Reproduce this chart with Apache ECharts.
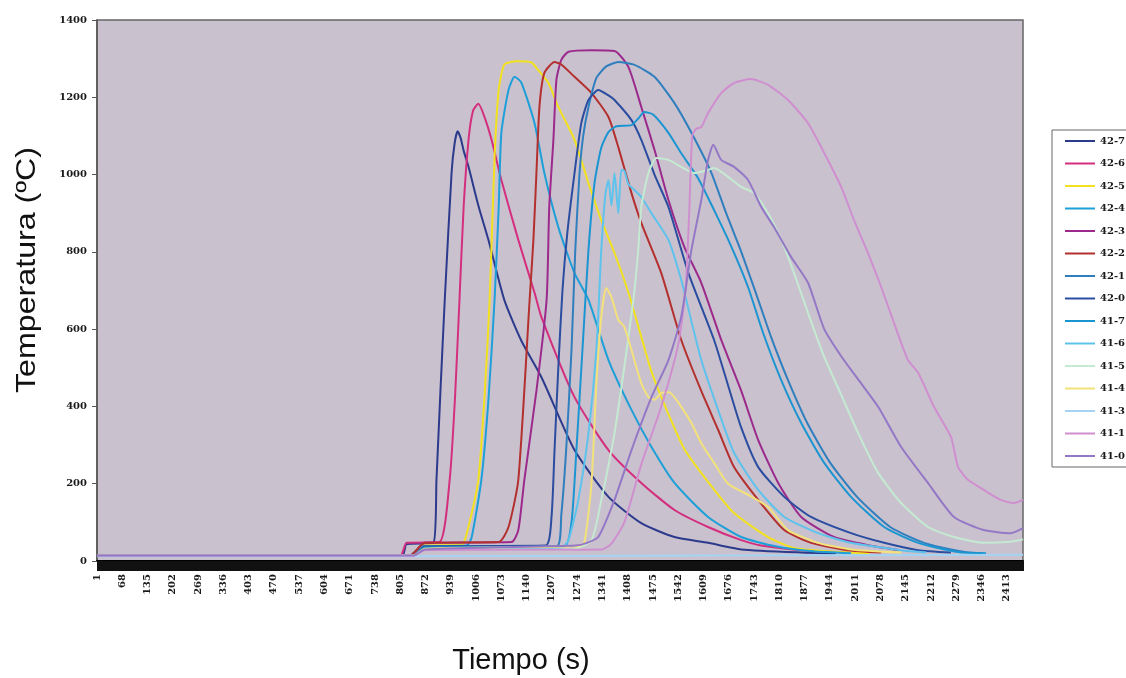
<!DOCTYPE html>
<html><head><meta charset="utf-8">
<script src="https://cdn.jsdelivr.net/npm/echarts@6/dist/echarts.min.js"></script>
<style>html,body{margin:0;padding:0;background:#fff}#c{width:1126px;height:678px}</style>
</head><body><div id="c"></div>
<script>
// time categories (s): 1..2456
const N = 2456;
const categories = [];
for (let i = 1; i <= N; i++) categories.push(String(i));

const yTicks = [0, 200, 400, 600, 800, 1000, 1200, 1400];

const seriesNames = ['42-7','42-6','42-5','42-4','42-3','42-2','42-1','42-0','41-7','41-6','41-5','41-4','41-3','41-1','41-0'];
const colors = ['#2c3a8c','#d42f7e','#f2e21e','#1d9fd8','#9b2a8c','#b3302e','#2f7fbf','#2b4da0','#1a95d2','#5dc3ec','#c4ead2','#f3e27a','#a4d4f2','#cf8fcf','#9478c6'];

// [time (s), temperature (ºC)]
const s42_7 = [[1,14],[810,14],[822,44],[893,47],[901,210],[912,450],[923,676],[941,1004],[949,1080],[957,1112],[965,1095],[973,1062],[986,1020],[1012,920],[1039,830],[1081,675],[1126,570],[1179,476],[1267,287],[1357,166],[1444,98],[1532,62],[1621,47],[1709,30],[1868,22],[1960,20]];
const s42_6 = [[1,14],[805,14],[822,47],[909,49],[936,210],[950,420],[962,676],[973,916],[986,1090],[998,1165],[1012,1183],[1028,1150],[1047,1090],[1073,986],[1118,831],[1161,694],[1179,632],[1267,424],[1357,287],[1444,202],[1532,132],[1621,88],[1709,54],[1762,40],[1868,28],[1990,22]];
const s42_5 = [[1,14],[830,14],[862,40],[968,42],[981,70],[1012,210],[1028,420],[1042,676],[1055,1045],[1066,1219],[1081,1285],[1113,1293],[1153,1290],[1171,1270],[1198,1237],[1224,1175],[1267,1090],[1304,978],[1338,882],[1373,797],[1410,694],[1444,580],[1471,490],[1516,380],[1558,290],[1621,205],[1690,124],[1780,62],[1849,34],[1960,24],[2050,20]];
const s42_4 = [[1,14],[830,14],[862,38],[981,40],[994,60],[1020,210],[1039,420],[1055,676],[1066,916],[1073,1108],[1092,1219],[1108,1253],[1126,1238],[1161,1133],[1187,1004],[1224,864],[1267,745],[1304,676],[1357,520],[1418,391],[1471,295],[1532,202],[1621,114],[1709,62],[1800,38],[1900,25],[2000,20]];
const s42_3 = [[1,14],[830,14],[870,47],[1100,49],[1118,80],[1134,210],[1166,440],[1193,676],[1200,916],[1211,1090],[1219,1245],[1232,1297],[1251,1318],[1312,1322],[1373,1320],[1410,1278],[1444,1175],[1479,1064],[1516,934],[1558,813],[1603,720],[1656,572],[1709,440],[1754,313],[1807,202],[1868,114],[1955,62],[2045,41],[2130,28]];
const s42_2 = [[1,14],[830,14],[870,47],[1066,49],[1092,88],[1118,210],[1148,676],[1158,831],[1166,1004],[1174,1175],[1187,1263],[1214,1291],[1232,1285],[1267,1253],[1312,1211],[1357,1149],[1383,1071],[1418,952],[1444,875],[1497,745],[1550,572],[1603,440],[1648,339],[1690,243],[1754,158],[1823,80],[1894,47],[1992,28],[2080,22]];
const s42_1 = [[1,14],[840,14],[870,35],[1220,38],[1232,120],[1245,290],[1259,546],[1269,805],[1280,1000],[1290,1100],[1304,1175],[1325,1250],[1351,1280],[1383,1291],[1426,1284],[1479,1253],[1532,1185],[1577,1108],[1630,1004],[1669,900],[1709,800],[1749,690],[1788,580],[1833,468],[1884,357],[1945,254],[2016,166],[2104,88],[2194,47],[2305,23],[2350,20]];
const s42_0 = [[1,14],[840,14],[870,38],[1190,40],[1206,114],[1214,287],[1224,500],[1235,700],[1248,850],[1267,1004],[1285,1133],[1304,1193],[1330,1219],[1357,1205],[1373,1193],[1418,1141],[1444,1090],[1479,1000],[1516,916],[1569,745],[1637,572],[1674,455],[1709,345],[1754,243],[1823,166],[1894,114],[2000,72],[2088,47],[2178,28],[2265,22]];
const s41_7 = [[1,14],[840,14],[870,35],[1240,38],[1259,100],[1272,287],[1288,546],[1304,805],[1320,978],[1338,1070],[1357,1110],[1378,1125],[1418,1128],[1436,1145],[1452,1162],[1476,1155],[1516,1108],[1550,1055],[1595,990],[1637,908],[1683,813],[1727,709],[1767,590],[1815,468],[1868,357],[1929,254],[2000,166],[2088,88],[2178,47],[2284,23],[2358,20]];
const s41_6 = [[1,14],[840,14],[870,30],[1232,35],[1251,54],[1277,158],[1304,331],[1325,546],[1338,805],[1349,950],[1357,986],[1365,920],[1373,1004],[1383,900],[1391,1012],[1399,1010],[1410,975],[1426,960],[1444,942],[1471,900],[1516,831],[1550,727],[1577,620],[1603,520],[1648,390],[1690,280],[1754,184],[1823,114],[1913,72],[2000,47],[2133,28],[2200,22]];
const s41_5 = [[1,14],[840,14],[870,28],[1260,30],[1312,54],[1338,158],[1373,331],[1399,502],[1423,676],[1436,805],[1444,916],[1463,1004],[1484,1043],[1516,1038],[1550,1020],[1584,1004],[1621,1012],[1637,1017],[1674,994],[1709,968],[1743,952],[1780,900],[1815,831],[1849,745],[1886,642],[1929,528],[1974,430],[2019,331],[2072,228],[2133,150],[2204,88],[2273,62],[2352,47],[2424,50],[2456,56]];
const s41_4 = [[1,14],[840,14],[870,32],[1275,38],[1293,47],[1312,202],[1325,460],[1338,632],[1351,706],[1365,683],[1383,624],[1399,606],[1418,546],[1444,460],[1463,424],[1479,417],[1497,435],[1518,437],[1550,399],[1577,357],[1603,305],[1637,254],[1674,200],[1730,170],[1780,140],[1833,80],[1913,47],[2000,30],[2133,22]];
const s41_3 = [[1,12],[800,12],[1600,14],[2456,16]];
const s41_1 = [[1,14],[840,14],[870,28],[1340,30],[1365,45],[1399,100],[1444,250],[1497,400],[1542,560],[1561,700],[1571,900],[1579,1100],[1589,1118],[1603,1123],[1621,1159],[1656,1211],[1690,1237],[1735,1247],[1780,1232],[1833,1193],[1886,1133],[1929,1056],[1974,968],[2008,882],[2045,797],[2080,709],[2114,616],[2151,520],[2178,487],[2220,399],[2265,321],[2284,243],[2310,210],[2352,184],[2397,158],[2432,150],[2456,158]];
const s41_0 = [[1,14],[840,14],[870,30],[1270,40],[1300,47],[1330,62],[1373,158],[1418,287],[1471,424],[1516,520],[1550,632],[1577,805],[1603,934],[1621,1038],[1635,1077],[1656,1038],[1690,1020],[1727,986],[1762,916],[1796,864],[1841,787],[1886,720],[1929,600],[1974,530],[2019,470],[2072,399],[2133,295],[2204,202],[2273,114],[2352,80],[2424,72],[2456,85]];

const allData = [s42_7,s42_6,s42_5,s42_4,s42_3,s42_2,s42_1,s42_0,s41_7,s41_6,s41_5,s41_4,s41_3,s41_1,s41_0];

const chart = echarts.init(document.getElementById('c'), null, {renderer: 'canvas'});
const labelFont = {fontFamily: '"DejaVu Serif", serif', fontWeight: 'bold', fontSize: 10, color: '#1a1a1a'};

chart.setOption({
  animation: false,
  backgroundColor: '#ffffff',
  color: colors,
  grid: {left: 97, right: 103, top: 20, bottom: 117, show: true, backgroundColor: '#cac1cf', borderColor: '#666', borderWidth: 1.5},
  legend: {
    orient: 'vertical', left: 1052, top: 130,
    data: seriesNames, icon: 'rect', itemWidth: 30, itemHeight: 2, itemGap: 10.5,
    backgroundColor: '#ffffff', borderColor: '#666', borderWidth: 1, borderRadius: 0,
    padding: [5, 2, 5, 13],
    textStyle: Object.assign({lineHeight: 12}, labelFont)
  },
  xAxis: {
    type: 'category', data: categories, boundaryGap: false,
    axisLine: {lineStyle: {color: '#000', width: 2}},
    axisTick: {show: true, interval: 0, length: 10, lineStyle: {color: '#111', width: 1}},
    axisLabel: Object.assign({interval: 66, rotate: 90, margin: 13}, labelFont),
    splitLine: {show: false}
  },
  yAxis: {
    type: 'value', min: 0, max: 1400, interval: 200,
    axisLine: {show: true, lineStyle: {color: '#555', width: 1.5}},
    axisTick: {show: true, length: 5, lineStyle: {color: '#555'}},
    axisLabel: Object.assign({margin: 10, formatter: v => yTicks.includes(v) ? String(v) : ''}, labelFont),
    splitLine: {show: false}
  },
  graphic: [
    {type: 'text', x: 27, y: 270, rotation: Math.PI / 2, scaleX: 1.15,
     style: {text: 'Temperatura (ºC)', font: '28px "Liberation Sans", Arial, sans-serif', fill: '#111', align: 'center', verticalAlign: 'middle'}},
    {type: 'text', x: 521, y: 661,
     style: {text: 'Tiempo (s)', font: '29px "Liberation Sans", Arial, sans-serif', fill: '#111', align: 'center', verticalAlign: 'middle'}}
  ],
  series: seriesNames.map((name, i) => ({
    name: name, type: 'line', showSymbol: false, smooth: 0.2,
    lineStyle: {width: 2, color: colors[i]},
    itemStyle: {color: colors[i]},
    data: allData[i].map(p => [p[0] - 1, p[1]])
  }))
});
</script>
</body></html>
